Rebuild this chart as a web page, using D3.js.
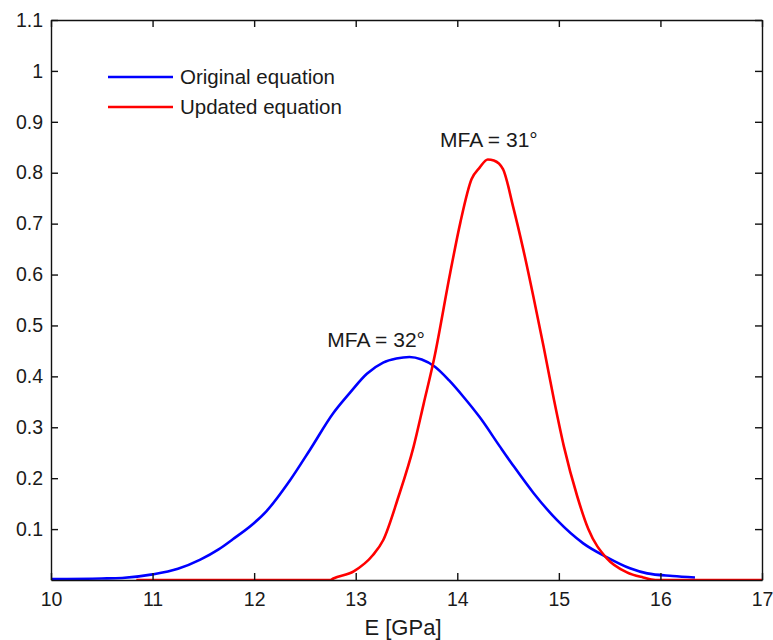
<!DOCTYPE html>
<html>
<head>
<meta charset="utf-8">
<script src="https://cdn.jsdelivr.net/npm/d3@7"></script>
<style>
  body { margin: 0; background: #fff; }
  text { font-family: "Liberation Sans", Arial, sans-serif; fill: #1a1a1a; }
</style>
</head>
<body>
<svg id="chart" width="773" height="640"></svg>
<script>
// original equation (blue)
var blueE = [10.0, 10.5, 10.7, 11.0, 11.25, 11.47, 11.65, 11.79, 12.0, 12.12, 12.35, 12.55, 12.78, 12.94, 13.11, 13.27, 13.4, 13.53, 13.65, 13.78, 13.92, 14.06, 14.22, 14.42, 14.55, 14.75, 14.98, 15.24, 15.47, 15.7, 15.87, 16.12, 16.34];
var blueV = [0.002, 0.003, 0.004, 0.011, 0.022, 0.04, 0.06, 0.08, 0.112, 0.135, 0.195, 0.256, 0.328, 0.367, 0.405, 0.427, 0.435, 0.438, 0.433, 0.419, 0.392, 0.36, 0.32, 0.262, 0.225, 0.171, 0.118, 0.072, 0.045, 0.023, 0.013, 0.008, 0.005];

// updated equation (red)
var redE = [10.84, 12.75, 12.78, 12.98, 13.17, 13.27, 13.42, 13.57, 13.67, 13.77, 13.93, 14.03, 14.14, 14.22, 14.3, 14.36, 14.45, 14.55, 14.65, 14.75, 14.85, 14.95, 15.05, 15.18, 15.29, 15.47, 15.67, 15.83, 15.95, 17.0];
var redV = [0.0, 0.0, 0.003, 0.017, 0.049, 0.078, 0.163, 0.262, 0.347, 0.433, 0.603, 0.702, 0.787, 0.81, 0.826, 0.824, 0.807, 0.733, 0.649, 0.556, 0.458, 0.356, 0.262, 0.165, 0.1, 0.043, 0.015, 0.005, 0.0, 0.0];

var xTicks = [10, 11, 12, 13, 14, 15, 16, 17];
var yTicks = [0.1, 0.2, 0.3, 0.4, 0.5, 0.6, 0.7, 0.8, 0.9, 1, 1.1];
var seriesNames = ["Original equation", "Updated equation"];
var seriesColors = ["#0000ff", "#ff0000"];
// label start point in data units (E, value at baseline)
var notes = [{ e: 13.83, v: 0.85, label: "MFA = 31°" }, { e: 12.72, v: 0.458, label: "MFA = 32°" }];

var svg = d3.select("#chart"),
  margin = { top: 20, left: 51, bottom: 60, right: 11 },
  width = +svg.attr("width") - margin.left - margin.right,
  height = +svg.attr("height") - margin.top - margin.bottom;

var x = d3.scaleLinear().domain([10, 17]).range([margin.left, margin.left + width]);
var y = d3.scaleLinear().domain([0, 1.1]).range([margin.top + height, margin.top]);

svg.append("clipPath").attr("id", "clip")
  .append("rect")
  .attr("x", margin.left).attr("y", margin.top)
  .attr("width", width).attr("height", height);

var line = d3.line()
  .x(d => x(d[0]))
  .y(d => y(d[1]))
  .curve(d3.curveMonotoneX);

var series = [d3.zip(blueE, blueV), d3.zip(redE, redV)];

svg.append("g")
  .attr("clip-path", "url(#clip)")
  .selectAll("path")
  .data(series)
  .enter()
  .append("path")
  .attr("d", line)
  .attr("fill", "none")
  .attr("stroke", (d, i) => seriesColors[i])
  .attr("stroke-width", 2.6)
  .attr("stroke-linejoin", "round");

// axes, ticks pointing inward on all four sides
var tl = 7;
svg.append("g")
  .attr("class", "x-axis")
  .attr("transform", `translate(0,${margin.top + height})`)
  .call(d3.axisBottom(x).tickValues(xTicks).tickSize(-tl).tickPadding(12).tickFormat(d3.format("d")).tickSizeOuter(0));

svg.append("g")
  .attr("class", "x-axis-top")
  .attr("transform", `translate(0,${margin.top})`)
  .call(d3.axisTop(x).tickValues(xTicks).tickSize(-tl).tickFormat("").tickSizeOuter(0));

svg.append("g")
  .attr("class", "y-axis")
  .attr("transform", `translate(${margin.left},0)`)
  .call(d3.axisLeft(y).tickValues(yTicks).tickSize(-tl).tickPadding(8).tickFormat(d3.format("~g")).tickSizeOuter(0));

svg.append("g")
  .attr("class", "y-axis-right")
  .attr("transform", `translate(${margin.left + width},0)`)
  .call(d3.axisRight(y).tickValues(yTicks).tickSize(-tl).tickFormat("").tickSizeOuter(0));

svg.selectAll(".x-axis, .x-axis-top, .y-axis, .y-axis-right")
  .selectAll("path, line")
  .attr("stroke", "#111")
  .attr("stroke-width", 1.4);

svg.selectAll(".x-axis text, .y-axis text")
  .style("font-size", "19.5px")
  .style("fill", "#1a1a1a");

svg.append("text")
  .attr("x", 403)
  .attr("y", 635)
  .attr("text-anchor", "middle")
  .style("font-size", "22px")
  .text("E [GPa]");

// legend
var legend = svg.selectAll(".legend")
  .data(seriesNames)
  .enter()
  .append("g")
  .attr("class", "legend")
  .attr("transform", (d, i) => `translate(0,${77 + i * 30})`);

legend.append("line")
  .attr("x1", 108).attr("x2", 173)
  .attr("stroke", (d, i) => seriesColors[i])
  .attr("stroke-width", 2.6);

legend.append("text")
  .attr("x", 180)
  .attr("dy", "0.35em")
  .style("font-size", "20.5px")
  .text(d => d);

// peak annotations
svg.selectAll(".note")
  .data(notes)
  .enter()
  .append("text")
  .attr("class", "note")
  .attr("x", d => x(d.e))
  .attr("y", d => y(d.v))
  .style("font-size", "21px")
  .text(d => d.label);
</script>
</body>
</html>
